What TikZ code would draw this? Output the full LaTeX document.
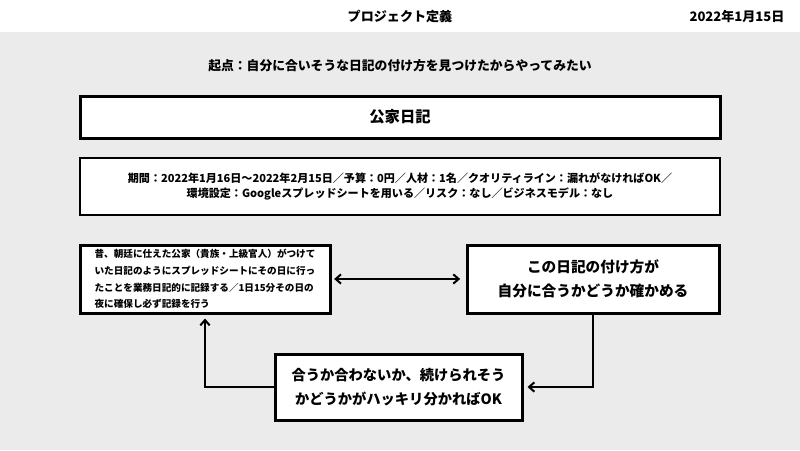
\documentclass[tikz,border=0pt]{standalone}
\usepackage{fontspec}
\setmainfont{Noto Sans CJK JP}
\usepackage{tikz}
\usetikzlibrary{arrows.meta, positioning}
\definecolor{kbg}{RGB}{235, 235, 235}

\begin{document}
\begin{tikzpicture}[
    x=0.75pt, y=-0.75pt,
    plate/.style={draw, line width=2.25pt, fill=white, align=center, inner sep=0pt},
    flow/.style={line width=1.5pt, -{Straight Barb[length=4pt, width=7pt]}},
]
    % Background
    \fill[white] (0,0) rectangle (800,450);
    \fill[kbg] (0,32) rectangle (800,450);
    \useasboundingbox (0,0) rectangle (800,450);

    % Header
    \node[font=\bfseries\fontsize{9.8pt}{12pt}\selectfont] (title) at (400,17) {プロジェクト定義};
    \node[font=\bfseries\fontsize{9.8pt}{12pt}\selectfont] (date) at (737,17) {2022年1月15日};
    \node[font=\bfseries\fontsize{9.6pt}{12pt}\selectfont] (origin) at (400,66) {起点：自分に合いそうな日記の付け方を見つけたからやってみたい};

    % Row 1
    \node[plate, minimum width=480pt, minimum height=31.5pt, font=\bfseries\fontsize{11.5pt}{14pt}\selectfont] (name) at (400,117) {公家日記};
    \node[plate, line width=2pt, minimum width=480pt, minimum height=42.75pt, font=\bfseries\fontsize{8.3pt}{11pt}\selectfont] (terms) at (400,186.5) {期間：2022年1月16日〜2022年2月15日／予算：0円／人材：1名／クオリティライン：漏れがなければOK／\\環境設定：Googleスプレッドシートを用いる／リスク：なし／ビジネスモデル：なし};

    % Row 2
    \node[plate, minimum width=187.5pt, minimum height=51pt, align=left, font=\bfseries\fontsize{7.2pt}{12.5pt}\selectfont] (story) at (205,279) {昔、朝廷に仕えた公家（貴族・上級官人）がつけて\\いた日記のようにスプレッドシートにその日に行っ\\たことを業務日記的に記録する／1日15分その日の\\夜に確保し必ず記録を行う};
    \node[plate, minimum width=189pt, minimum height=51pt, font=\bfseries\fontsize{11pt}{18pt}\selectfont] (check) at (593,279) {この日記の付け方が\\自分に合うかどうか確かめる};

    % Row 3
    \node[plate, minimum width=185.25pt, minimum height=49.5pt, font=\bfseries\fontsize{10.7pt}{18pt}\selectfont] (goal) at (398.5,387) {合うか合わないか、続けられそう\\かどうかがハッキリ分かればOK};

    % Connectors
    \draw[flow, {Straight Barb[length=4pt, width=7pt]}-{Straight Barb[length=4pt, width=7pt]}, shorten <=2pt, shorten >=4pt] (story.east) -- (check.west);
    \draw[flow, shorten >=3pt] (check.south) |- (goal.east);
    \draw[flow, shorten >=3pt] (goal.west) -| (story.south);
\end{tikzpicture}
\end{document}
